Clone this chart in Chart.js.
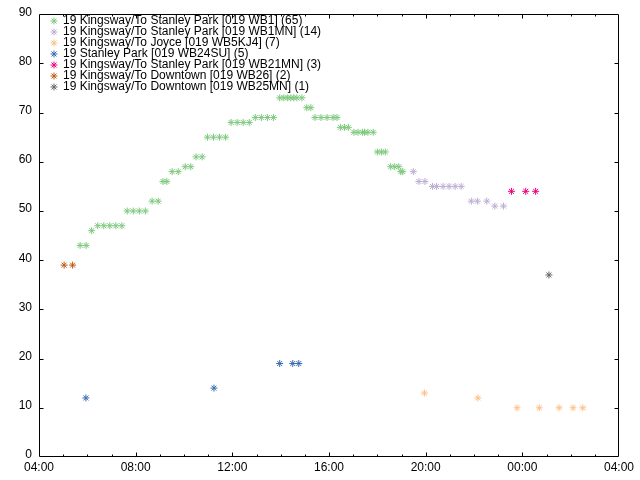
<!DOCTYPE html>
<html>
<head>
<meta charset="utf-8">
<script src="https://cdn.jsdelivr.net/npm/chart.js@4.4.1/dist/chart.umd.min.js"></script>
<style>
  html, body { margin: 0; padding: 0; background: #fff; }
  #wrap { width: 640px; height: 480px; }
</style>
</head>
<body>
<div id="wrap"><canvas id="chart" width="640" height="480"></canvas></div>
<script>
// times are hours since 00:00 of the first day (values past 24 are after midnight)
const wb1Times = [5.70, 5.95, 6.18, 6.43, 6.68, 6.93, 7.18, 7.43, 7.65, 7.90, 8.15, 8.40, 8.68, 8.93,
    9.13, 9.29, 9.51, 9.76, 10.05, 10.28, 10.50, 10.75, 10.97, 11.22, 11.47, 11.72, 11.95, 12.20, 12.45,
    12.70, 12.95, 13.20, 13.45, 13.70, 13.96, 14.13, 14.29, 14.42, 14.54, 14.67, 14.88, 15.08, 15.25,
    15.42, 15.67, 15.92, 16.17, 16.33, 16.47, 16.64, 16.80, 17.03, 17.20, 17.39, 17.47, 17.61, 17.83,
    18.00, 18.17, 18.33, 18.55, 18.72, 18.89, 18.97, 19.05];
const wb1Values = [43, 43, 46, 47, 47, 47, 47, 47, 50, 50, 50, 50, 52, 52,
    56, 56, 58, 58, 59, 59, 61, 61, 65, 65, 65, 65, 68, 68, 68,
    68, 69, 69, 69, 69, 73, 73, 73, 73, 73, 73, 73, 71, 71,
    69, 69, 69, 69, 69, 67, 67, 67, 66, 66, 66, 66, 66, 66,
    62, 62, 62, 59, 59, 59, 58, 58];

const wb1mnTimes = [19.49, 19.72, 19.97, 20.28, 20.45, 20.72, 20.97, 21.22, 21.47, 21.89, 22.14, 22.53, 22.86, 23.22];
const wb1mnValues = [58, 56, 56, 55, 55, 55, 55, 55, 55, 52, 52, 52, 51, 51];

const wb5kj4Times = [19.95, 22.16, 23.78, 24.70, 25.52, 26.10, 26.50];
const wb5kj4Values = [13, 12, 10, 10, 10, 10, 10];

const wb24suTimes = [5.94, 11.24, 13.96, 14.50, 14.75];
const wb24suValues = [12, 14, 19, 19, 19];

const wb21mnTimes = [23.55, 24.14, 24.55];
const wb21mnValues = [54, 54, 54];

const wb26Times = [5.04, 5.39];
const wb26Values = [39, 39];

const wb25mnTimes = [25.10];
const wb25mnValues = [37];

const seriesLabels = [
    '19 Kingsway/To Stanley Park [019 WB1] (65)',
    '19 Kingsway/To Stanley Park [019 WB1MN] (14)',
    '19 Kingsway/To Joyce [019 WB5KJ4] (7)',
    '19 Stanley Park [019 WB24SU] (5)',
    '19 Kingsway/To Stanley Park [019 WB21MN] (3)',
    '19 Kingsway/To Downtown [019 WB26] (2)',
    '19 Kingsway/To Downtown [019 WB25MN] (1)',
];
const seriesColors = ['#7fc97f', '#beaed4', '#fdc086', '#386cb0', '#f0027f', '#bf5b17', '#666666'];

const xTicks = [4, 8, 12, 16, 20, 24, 28];
const yTicks = [0, 10, 20, 30, 40, 50, 60, 70, 80, 90];

const allTimes = [wb1Times, wb1mnTimes, wb5kj4Times, wb24suTimes, wb21mnTimes, wb26Times, wb25mnTimes];
const allValues = [wb1Values, wb1mnValues, wb5kj4Values, wb24suValues, wb21mnValues, wb26Values, wb25mnValues];

const FONT = '"Liberation Sans", Arial, sans-serif';

function hhmm(h) {
    let hh = ((Math.round(h) % 24) + 24) % 24;
    return (hh < 10 ? '0' : '') + hh + ':00';
}

let datasets = allTimes.map((times, i) => ({
    label: seriesLabels[i],
    data: times.map((t, j) => ({x: t, y: allValues[i][j]})),
    showLine: false,
    pointStyle: 'star',
    pointRadius: 3.5,
    pointBorderWidth: 1,
    pointBorderColor: seriesColors[i],
    pointBackgroundColor: seriesColors[i],
    order: allTimes.length - i,
}));

// gnuplot-like frame with inward ticks on all four sides
const frame = {
    id: 'frame',
    afterDatasetsDraw(chart) {
        const ctx = chart.ctx;
        const a = chart.chartArea;
        const xs = chart.scales.x, ys = chart.scales.y;
        const L = Math.round(a.left) + 0.5, R = Math.round(a.right) - 0.5;
        const T = Math.round(a.top) + 0.5, B = Math.round(a.bottom) - 0.5;
        ctx.save();
        ctx.strokeStyle = '#000';
        ctx.lineWidth = 1;
        ctx.beginPath();
        ctx.rect(L, T, R - L, B - T);
        for (let h = 5; h < 28; h++) {
            if (h % 4 === 0) continue;
            let px = Math.round(xs.getPixelForValue(h)) + 0.5;
            ctx.moveTo(px, B); ctx.lineTo(px, B - 2);
            ctx.moveTo(px, T); ctx.lineTo(px, T + 2);
        }
        xTicks.slice(1, -1).forEach(h => {
            let px = Math.round(xs.getPixelForValue(h)) + 0.5;
            ctx.moveTo(px, B); ctx.lineTo(px, B - 4);
            ctx.moveTo(px, T); ctx.lineTo(px, T + 4);
        });
        yTicks.slice(1, -1).forEach(v => {
            let py = Math.round(ys.getPixelForValue(v)) + 0.5;
            ctx.moveTo(L, py); ctx.lineTo(L + 4, py);
            ctx.moveTo(R, py); ctx.lineTo(R - 4, py);
        });
        ctx.stroke();
        ctx.restore();
    }
};

// key in the top left corner of the plot
const key = {
    id: 'key',
    afterDraw(chart) {
        const ctx = chart.ctx;
        ctx.save();
        ctx.font = '12px ' + FONT;
        ctx.textBaseline = 'middle';
        ctx.fillStyle = '#000';
        seriesLabels.forEach((label, i) => {
            let y = 21 + i * 11;
            ctx.strokeStyle = seriesColors[i];
            Chart.helpers.drawPoint(ctx, {pointStyle: 'star', radius: 3.5, borderWidth: 1}, 54, y);
            ctx.fillText(label, 63, y);
        });
        ctx.restore();
    }
};

new Chart(document.getElementById('chart'), {
    type: 'scatter',
    data: { datasets: datasets },
    options: {
        responsive: false,
        animation: false,
        events: [],
        layout: { padding: { top: 12, right: 21, left: 0, bottom: 0 } },
        plugins: {
            legend: { display: false },
            tooltip: { enabled: false },
        },
        scales: {
            x: {
                type: 'linear',
                min: 4,
                max: 28,
                afterFit: (s) => { s.height = 23; },
                afterBuildTicks: (s) => { s.ticks = xTicks.map(v => ({value: v})); },
                ticks: {
                    callback: (v) => hhmm(v),
                    color: '#000',
                    font: { family: FONT, size: 12 },
                    padding: 3,
                    maxRotation: 0,
                    autoSkip: false,
                },
                grid: { display: true, drawOnChartArea: false, drawTicks: false },
                border: { display: false },
            },
            y: {
                min: 0,
                max: 90,
                afterFit: (s) => { s.width = 39; },
                afterBuildTicks: (s) => { s.ticks = yTicks.map(v => ({value: v})); },
                ticks: {
                    color: '#000',
                    font: { family: FONT, size: 12 },
                    padding: 7,
                    labelOffset: -2,
                },
                grid: { display: true, drawOnChartArea: false, drawTicks: false },
                border: { display: false },
            },
        },
    },
    plugins: [frame, key],
});
</script>
</body>
</html>
